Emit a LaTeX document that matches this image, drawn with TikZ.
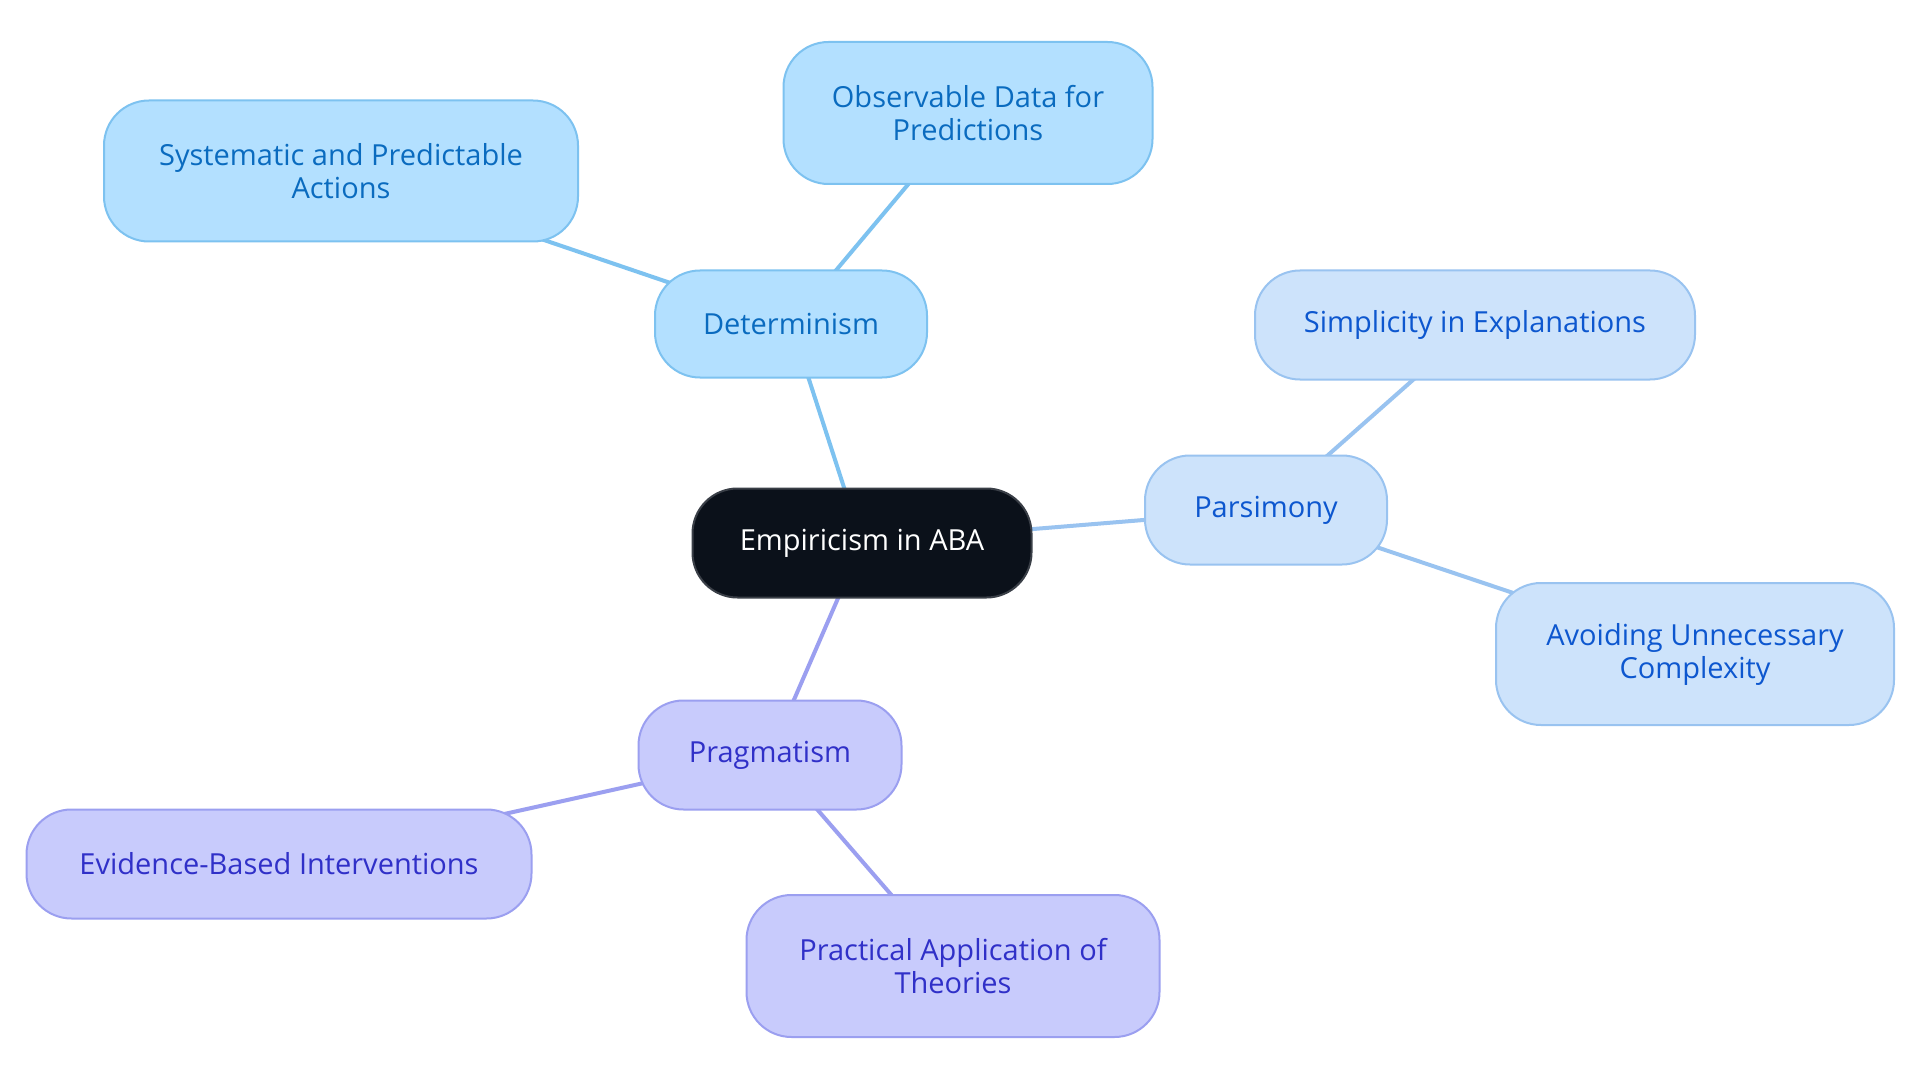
\documentclass[tikz,border=0pt]{standalone}
\usepackage{fontspec}
\setmainfont{Open Sans}
\definecolor{cfill}{HTML}{0B111A}
\definecolor{cdraw}{HTML}{3A3F47}
\definecolor{dfill}{HTML}{B3E0FF}
\definecolor{ddraw}{HTML}{7DC2F0}
\definecolor{dtext}{HTML}{0A6BBF}
\definecolor{pfill}{HTML}{CDE3FB}
\definecolor{pdraw}{HTML}{99C3F0}
\definecolor{ptext}{HTML}{0D57CF}
\definecolor{gfill}{HTML}{C8CBFC}
\definecolor{gdraw}{HTML}{9B9FF0}
\definecolor{gtext}{HTML}{3030C8}
\pgfdeclarelayer{bg}
\pgfsetlayers{bg,main}
\begin{document}
\begin{tikzpicture}[x=1pt,y=-1pt,
  every node/.style={font=\fontsize{29}{33}\selectfont, align=center, inner sep=0pt},
  box/.style={rectangle, rounded corners=45pt, line width=2pt},
  central/.style={box, fill=cfill, draw=cdraw, text=white},
  dbox/.style={box, fill=dfill, draw=ddraw, text=dtext},
  pbox/.style={box, fill=pfill, draw=pdraw, text=ptext},
  gbox/.style={box, fill=gfill, draw=gdraw, text=gtext},
  dline/.style={draw=ddraw, line width=4pt},
  pline/.style={draw=pdraw, line width=4pt},
  gline/.style={draw=gdraw, line width=4pt},
  ]
\useasboundingbox (0,0) rectangle (1920,1083);
\node[central, minimum width=339pt, minimum height=109pt] (c) at (862,543) {Empiricism in ABA};
\node[dbox, minimum width=272pt, minimum height=107pt] (det) at (791,324) {Determinism};
\node[dbox, minimum width=369pt, minimum height=142pt] (obs) at (968,113) {Observable Data for\\Predictions};
\node[dbox, minimum width=474pt, minimum height=141pt] (sys) at (341,171) {Systematic and Predictable\\Actions};
\node[pbox, minimum width=242pt, minimum height=109pt] (par) at (1266,510) {Parsimony};
\node[pbox, minimum width=440pt, minimum height=109pt] (sim) at (1475,325) {Simplicity in Explanations};
\node[pbox, minimum width=398pt, minimum height=142pt] (avo) at (1695,654) {Avoiding Unnecessary\\Complexity};
\node[gbox, minimum width=263pt, minimum height=109pt] (pra) at (770,755) {Pragmatism};
\node[gbox, minimum width=505pt, minimum height=109pt] (evi) at (279,864) {Evidence-Based Interventions};
\node[gbox, minimum width=413pt, minimum height=142pt] (app) at (953,966) {Practical Application of\\Theories};
\begin{pgfonlayer}{bg}
\fill[white] (0,0) rectangle (1920,1083);
\path[dline] (c.center) -- (det.center);
\path[dline] (det.center) -- (obs.center);
\path[dline] (det.center) -- (sys.center);
\path[pline] (c.center) -- (par.center);
\path[pline] (par.center) -- (sim.center);
\path[pline] (par.center) -- (avo.center);
\path[gline] (c.center) -- (pra.center);
\path[gline] (pra.center) -- (evi.center);
\path[gline] (pra.center) -- (app.center);
\end{pgfonlayer}
\end{tikzpicture}
\end{document}
